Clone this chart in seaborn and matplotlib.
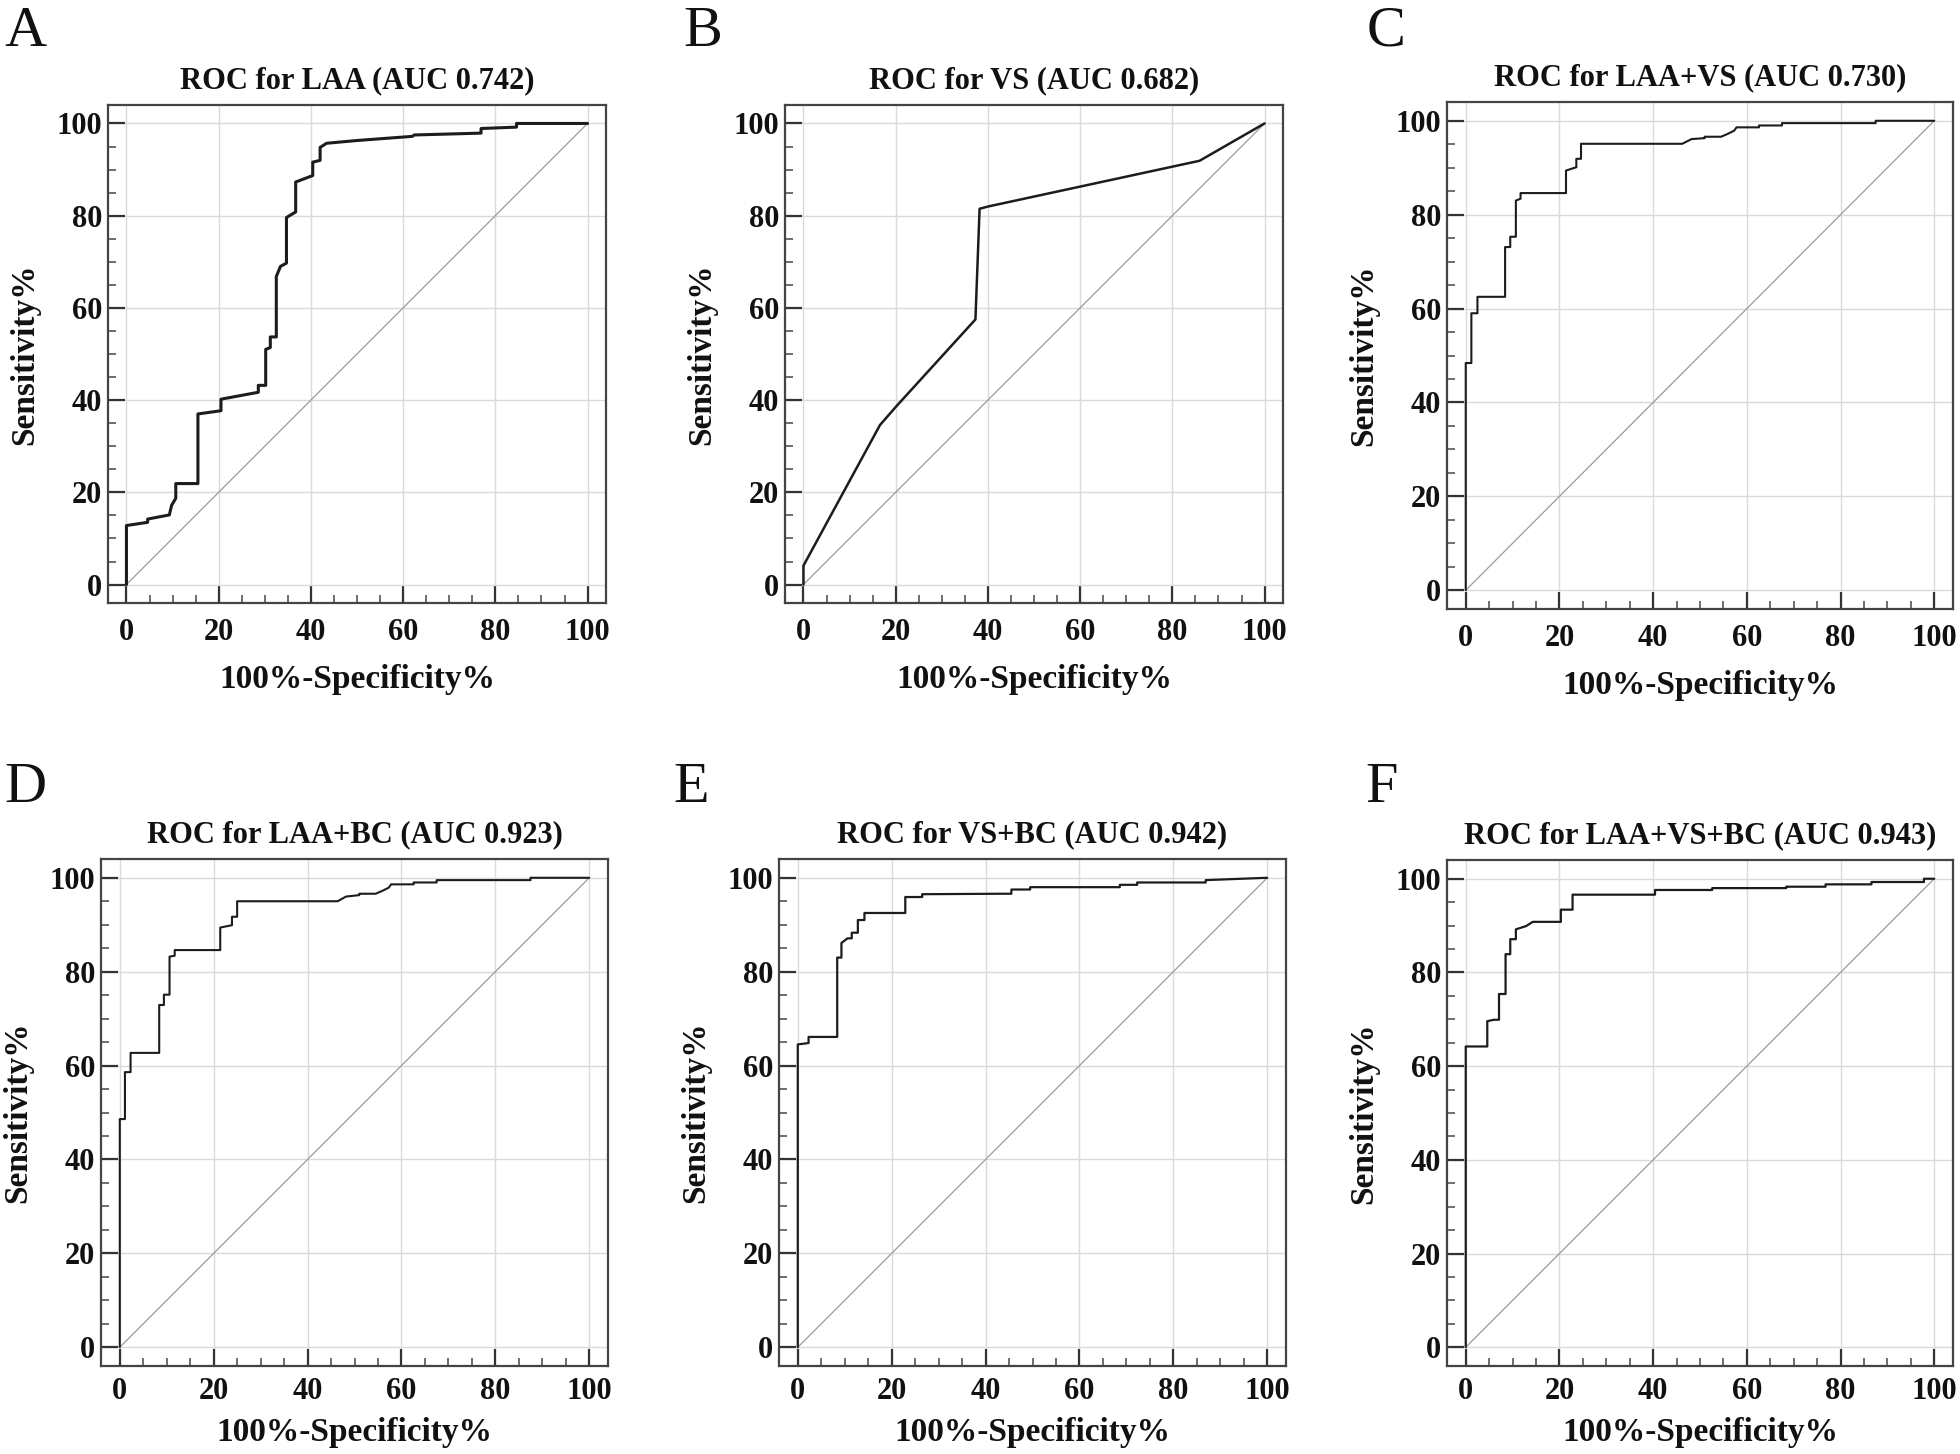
import numpy as np
import pandas as pd
import matplotlib
matplotlib.use("Agg")
import matplotlib.pyplot as plt
from matplotlib.ticker import MultipleLocator
import seaborn as sns

# ---------------- data ----------------
PANEL_LETTERS = ["A", "B", "C", "D", "E", "F"]
TITLES = [
    "ROC for LAA (AUC 0.742)",
    "ROC for VS (AUC 0.682)",
    "ROC for LAA+VS (AUC 0.730)",
    "ROC for LAA+BC (AUC 0.923)",
    "ROC for VS+BC (AUC 0.942)",
    "ROC for LAA+VS+BC (AUC 0.943)",
]
X_LABEL = "100%-Specificity%"
Y_LABEL = "Sensitivity%"
TICKS = [0, 20, 40, 60, 80, 100]
CHANCE_X = [0, 100]
CHANCE_Y = [0, 100]

laa_fpr = [0, 0, 4.6, 4.6, 9.3, 9.8, 10.7, 10.7, 15.5, 15.5, 20.5, 20.5, 28.6, 28.6,
           30.2, 30.2, 31.2, 31.2, 32.5, 32.5, 33.4, 34.7, 34.7, 36.7, 36.7, 40.4,
           40.4, 42.0, 42.0, 43.4, 50.0, 62.0, 62.4, 76.9, 76.9, 84.6, 84.6, 100]
laa_tpr = [0, 12.8, 13.5, 14.2, 15.1, 17.2, 18.7, 21.9, 21.9, 37.0, 37.7, 40.2, 41.7, 43.2,
           43.2, 51.0, 51.4, 53.7, 53.7, 66.8, 69.0, 69.7, 79.6, 80.8, 87.3, 88.7,
           91.6, 92.0, 94.8, 95.7, 96.3, 97.2, 97.5, 97.9, 98.9, 99.2, 100, 100]

vs_fpr = [0, 0, 16.6, 20.0, 37.3, 38.2, 40.1, 85.9, 100]
vs_tpr = [0, 4.1, 34.6, 38.5, 57.5, 81.5, 82.0, 91.9, 100]

laavs_fpr = [0, 0, 1.2, 1.2, 2.5, 2.5, 8.4, 8.4, 9.5, 9.5, 10.7, 10.7, 11.7, 11.7, 21.4,
             21.4, 23.6, 23.6, 24.6, 24.6, 46.2, 48.2, 51.0, 51.0, 54.5, 55.9, 57.3,
             57.8, 62.6, 62.6, 67.5, 67.5, 87.5, 87.5, 100]
laavs_tpr = [0, 48.4, 48.4, 59.0, 59.0, 62.5, 62.5, 73.1, 73.1, 75.3, 75.3, 83.0, 83.4,
             84.6, 84.6, 89.4, 90.1, 91.9, 91.9, 95.1, 95.1, 96.1, 96.3, 96.6, 96.6,
             97.2, 97.9, 98.6, 98.6, 99.0, 99.0, 99.5, 99.5, 100, 100]

laabc_fpr = [0, 0, 1.1, 1.1, 2.3, 2.3, 8.4, 8.4, 9.4, 9.4, 10.6, 10.6, 11.7, 11.7, 21.4,
             21.4, 23.9, 23.9, 25.0, 25.0, 46.4, 48.2, 51.0, 51.0, 54.5, 55.9, 57.3,
             57.8, 62.6, 62.6, 67.5, 67.5, 87.5, 87.5, 100]
laabc_tpr = [0, 48.6, 48.6, 58.6, 58.6, 62.7, 62.7, 72.9, 72.9, 75.1, 75.1, 83.2, 83.4,
             84.6, 84.6, 89.4, 89.9, 91.7, 91.7, 95.0, 95.0, 96.0, 96.3, 96.6, 96.6,
             97.2, 97.9, 98.6, 98.6, 99.0, 99.0, 99.5, 99.5, 100, 100]

vsbc_fpr = [0, 0, 2.3, 2.3, 8.4, 8.4, 9.3, 9.3, 10.6, 11.5, 11.5, 12.8, 12.8, 14.2, 14.2,
            22.9, 22.9, 26.5, 26.5, 43.2, 45.5, 45.5, 49.5, 49.5, 68.6, 68.6, 72.3,
            72.3, 86.9, 86.9, 100]
vsbc_tpr = [0, 64.5, 64.8, 66.1, 66.1, 83.0, 83.0, 86.1, 87.1, 87.1, 88.3, 88.3, 91.0,
            91.0, 92.5, 92.5, 95.9, 95.9, 96.5, 96.6, 96.6, 97.5, 97.5, 98.0, 98.0,
            98.5, 98.5, 99.0, 99.0, 99.5, 100]

all_fpr = [0, 0, 4.6, 4.6, 6.0, 7.1, 7.1, 8.5, 8.5, 9.5, 9.5, 10.7, 10.7, 12.9, 14.3,
           20.3, 20.3, 22.8, 22.8, 40.4, 40.4, 52.6, 52.6, 68.4, 68.4, 76.8, 76.8,
           86.6, 86.6, 97.8, 97.8, 100]
all_tpr = [0, 64.2, 64.2, 69.6, 69.9, 69.9, 75.4, 75.4, 83.9, 83.9, 87.1, 87.1, 89.2,
           89.9, 90.8, 90.8, 93.4, 93.4, 96.6, 96.6, 97.6, 97.6, 98.0, 98.0, 98.3,
           98.3, 98.8, 98.8, 99.3, 99.3, 100, 100]

CURVES = [(laa_fpr, laa_tpr), (vs_fpr, vs_tpr), (laavs_fpr, laavs_tpr),
          (laabc_fpr, laabc_tpr), (vsbc_fpr, vsbc_tpr), (all_fpr, all_tpr)]

# ---------------- layout / style ----------------
W, H = 1960, 1454
BOXES = [  # left, top, right, bottom in pixels
    (108, 105, 606, 603),
    (785, 105, 1283, 603),
    (1447, 102, 1953, 609),
    (101, 859, 608, 1366),
    (779, 859, 1286, 1366),
    (1447, 860, 1953, 1366),
]
XTICK_PAD = [11, 11, 11, 8, 8, 8]
XLABEL_PAD = [12, 12, 12, 8, 8, 8]
LETTER_POS = [(4, 46), (683, 46), (1367, 46), (4, 802), (673, 802), (1365, 802)]
CURVE_LW = [2.2, 1.8, 1.5, 1.5, 1.6, 1.6]

sns.set_theme(style="white")
plt.rcParams["font.family"] = ["Liberation Serif", "DejaVu Serif"]
plt.rcParams["font.weight"] = "bold"
plt.rcParams["axes.titleweight"] = "bold"
plt.rcParams["axes.labelweight"] = "bold"

fig = plt.figure(figsize=(W / 100, H / 100), dpi=100)
fig.patch.set_facecolor("white")

for i, (letter, title, (fx, fy)) in enumerate(zip(PANEL_LETTERS, TITLES, CURVES)):
    l, t, r, b = BOXES[i]
    ax = fig.add_axes([l / W, 1 - b / H, (r - l) / W, (b - t) / H])
    df = pd.DataFrame({"fpr": fx, "tpr": fy})
    ref = pd.DataFrame({"x": CHANCE_X, "y": CHANCE_Y})
    sns.lineplot(data=ref, x="x", y="y", ax=ax, color="#9a9a9a", linewidth=0.9,
                 sort=False, estimator=None)
    sns.lineplot(data=df, x="fpr", y="tpr", ax=ax, color="#1c1c1c",
                 linewidth=CURVE_LW[i], sort=False, estimator=None)
    ax.set_xlim(-4, 104)
    ax.set_ylim(-4, 104)
    ax.set_xticks(TICKS)
    ax.set_yticks(TICKS)
    ax.xaxis.set_minor_locator(MultipleLocator(5))
    ax.yaxis.set_minor_locator(MultipleLocator(5))
    ax.grid(True, which="major", color="#dadada", linewidth=1.0)
    ax.set_axisbelow(True)
    ax.tick_params(which="major", direction="in", length=12, width=1.6,
                   color="#333333", labelsize=22, bottom=True, left=True,
                   top=False, right=False)
    ax.tick_params(axis="x", which="major", pad=XTICK_PAD[i])
    ax.tick_params(axis="y", which="major", pad=4)
    ax.tick_params(which="minor", direction="in", length=6, width=1.2,
                   color="#555555", bottom=True, left=True, top=False, right=False)
    for sp in ax.spines.values():
        sp.set_visible(True)
        sp.set_color("#444444")
        sp.set_linewidth(1.6)
    ax.set_title(title, fontsize=22, fontweight="bold", pad=12, color="#111111")
    ax.set_xlabel(X_LABEL, fontsize=24, fontweight="bold", labelpad=XLABEL_PAD[i],
                  color="#111111")
    ax.set_ylabel(Y_LABEL, fontsize=24, fontweight="bold", labelpad=12, color="#111111")
    for lab in ax.get_xticklabels() + ax.get_yticklabels():
        lab.set_fontweight("bold")
        lab.set_color("#111111")
    lx, ly = LETTER_POS[i]
    fig.text(lx / W, 1 - ly / H, letter, fontsize=42, fontweight="normal",
             va="baseline", ha="left", color="#111111")

fig.savefig("out.png", dpi=100, facecolor="white")
